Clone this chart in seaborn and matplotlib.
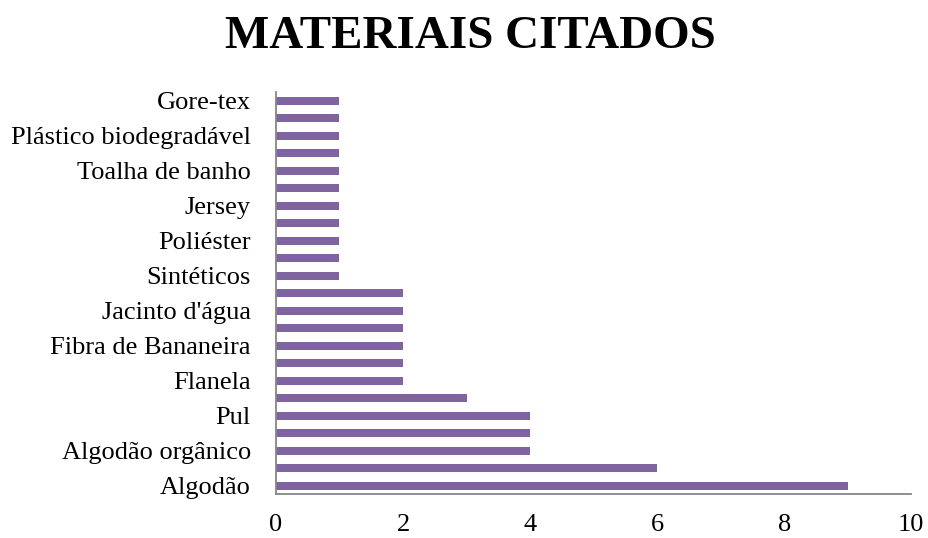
import matplotlib
matplotlib.use("Agg")
import matplotlib.pyplot as plt
import pandas as pd
import seaborn as sns

sns.set_style("white")
plt.rcParams["font.family"] = ["Liberation Serif", "DejaVu Serif"]
plt.rcParams["text.color"] = "black"
plt.rcParams["xtick.color"] = "black"
plt.rcParams["ytick.color"] = "black"

# bottom-to-top order, as in the reference; only every other category is labelled
categories = [
    "Algodão", "(2)", "Algodão orgânico", "(4)", "Pul", "(6)",
    "Flanela", "(8)", "Fibra de Bananeira", "(10)", "Jacinto d'água", "(12)",
    "Sintéticos", "(14)", "Poliéster", "(16)", "Jersey", "(18)",
    "Toalha de banho", "(20)", "Plástico biodegradável", "(22)", "Gore-tex",
]
counts = [9, 6, 4, 4, 4, 3, 2, 2, 2, 2, 2, 2, 1, 1, 1, 1, 1, 1, 1, 1, 1, 1, 1]
tick_labels = [c if i % 2 == 0 else "" for i, c in enumerate(categories)]
x_ticks = [0, 2, 4, 6, 8, 10]

df = pd.DataFrame({"material": categories, "n": counts})
order = categories[::-1]  # seaborn draws the first category at the top

fig = plt.figure(figsize=(9.29, 5.38), dpi=100)
ax = fig.add_axes([0.297, 0.081, 0.684, 0.748])
sns.barplot(data=df, y="material", x="n", order=order, orient="h",
            color="#8064A2", saturation=1, width=0.44, linewidth=0, ax=ax)

ax.set_xlim(0, 10)
ax.set_xticks(x_ticks)
ax.set_yticks(range(len(order)))
ax.set_yticklabels(tick_labels[::-1])
ax.tick_params(axis="both", length=0, labelsize=19)
ax.tick_params(axis="x", pad=14)
ax.tick_params(axis="y", pad=18)
ax.set_xlabel("")
ax.set_ylabel("")
for side in ("top", "right"):
    ax.spines[side].set_visible(False)
for side in ("left", "bottom"):
    ax.spines[side].set_color("#868686")
    ax.spines[side].set_linewidth(1.3)

fig.suptitle("MATERIAIS CITADOS", x=0.506, y=0.97, fontsize=33.8, fontweight="bold")

plt.savefig("out.png", dpi=100)
plt.close()
